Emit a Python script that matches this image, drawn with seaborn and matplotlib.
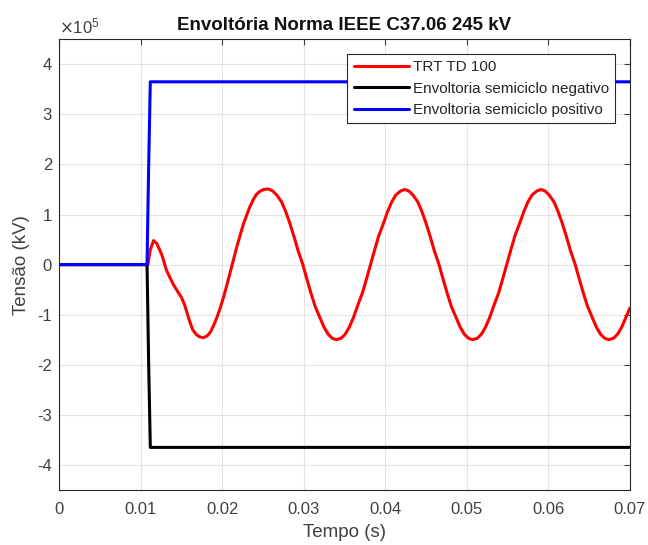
import numpy as np
import pandas as pd
import matplotlib
matplotlib.use('Agg')
import matplotlib.pyplot as plt
import seaborn as sns

# values (tension in units of 1e5 V)
scale = 1e5

t_trt = [0, 0.0109, 0.0112, 0.0116, 0.0120, 0.0126, 0.0132, 0.0140, 0.0146, 0.0150,
         0.0154, 0.0160, 0.0164, 0.0168, 0.0172, 0.0177, 0.0182, 0.0186, 0.0190, 0.0194,
         0.0198, 0.0202, 0.0206, 0.0210, 0.0214, 0.0218, 0.0222, 0.0226, 0.0230, 0.0234,
         0.0238, 0.0242, 0.0246, 0.0251,
         0.0257, 0.0262, 0.0267, 0.0273, 0.0278, 0.0283, 0.0288, 0.0293,
         0.0299, 0.0304, 0.0309, 0.0314, 0.0320, 0.0325, 0.0330, 0.0335,
         0.0340, 0.0346, 0.0351, 0.0356, 0.0361, 0.0366, 0.0372, 0.0377,
         0.0382, 0.0387, 0.0392, 0.0398, 0.0403, 0.0408, 0.0413, 0.0419,
         0.0424, 0.0429, 0.0434, 0.0440, 0.0445, 0.0450, 0.0455, 0.0460,
         0.0466, 0.0471, 0.0476, 0.0481, 0.0487, 0.0492, 0.0497, 0.0502,
         0.0507, 0.0513, 0.0518, 0.0523, 0.0528, 0.0533, 0.0539, 0.0544,
         0.0549, 0.0554, 0.0559, 0.0565, 0.0570, 0.0575, 0.0580, 0.0586,
         0.0591, 0.0596, 0.0601, 0.0607, 0.0612, 0.0617, 0.0622, 0.0627,
         0.0633, 0.0638, 0.0643, 0.0648, 0.0654, 0.0659, 0.0664, 0.0669,
         0.0674, 0.0680, 0.0685, 0.0690, 0.0695, 0.0700]
v_trt = [0, 0, 0.30, 0.48, 0.42, 0.20, -0.12, -0.39, -0.55, -0.65,
         -0.80, -1.12, -1.30, -1.39, -1.44, -1.46, -1.42, -1.34, -1.20, -1.04,
         -0.85, -0.64, -0.40, -0.15, 0.10, 0.35, 0.58, 0.80, 0.98, 1.15,
         1.29, 1.40, 1.46, 1.50,
         1.51, 1.47, 1.39, 1.25, 1.06, 0.83, 0.57, 0.29,
         0.00, -0.29, -0.57, -0.83, -1.06, -1.25, -1.39, -1.47,
         -1.50, -1.47, -1.39, -1.25, -1.06, -0.83, -0.57, -0.29,
         0.00, 0.29, 0.57, 0.83, 1.06, 1.25, 1.39, 1.47,
         1.50, 1.47, 1.39, 1.25, 1.06, 0.83, 0.57, 0.29,
         0.00, -0.29, -0.57, -0.83, -1.06, -1.25, -1.39, -1.47,
         -1.50, -1.47, -1.39, -1.25, -1.06, -0.83, -0.57, -0.29,
         0.00, 0.29, 0.57, 0.83, 1.06, 1.25, 1.39, 1.47,
         1.50, 1.47, 1.39, 1.25, 1.06, 0.83, 0.57, 0.29,
         0.00, -0.29, -0.57, -0.83, -1.06, -1.25, -1.39, -1.47,
         -1.50, -1.47, -1.39, -1.25, -1.06, -0.87]

t_neg = [0, 0.0108, 0.0110, 0.0112, 0.0700]
v_neg = [0, 0, -2.0, -3.65, -3.65]

t_pos = [0, 0.0108, 0.0110, 0.0112, 0.0700]
v_pos = [0, 0, 2.0, 3.65, 3.65]

labels = ['TRT TD 100', 'Envoltoria semiciclo negativo', 'Envoltoria semiciclo positivo']
colors = ['#ff0000', '#000000', '#0000ff']

x_ticks = [0, 0.01, 0.02, 0.03, 0.04, 0.05, 0.06, 0.07]
x_ticklabels = ['0', '0.01', '0.02', '0.03', '0.04', '0.05', '0.06', '0.07']
y_ticks = [-4, -3, -2, -1, 0, 1, 2, 3, 4]
y_ticklabels = ['-4', '-3', '-2', '-1', '0', '1', '2', '3', '4']

sns.set_style('white')
plt.rcParams['font.family'] = ['Liberation Sans', 'DejaVu Sans']

fig = plt.figure(figsize=(6.48, 5.45), dpi=100)
ax = fig.add_axes([0.091, 0.101, 0.881, 0.827])

series = [(t_trt, v_trt), (t_neg, v_neg), (t_pos, v_pos)]
for (t, v), lab, col in zip(series, labels, colors):
    df = pd.DataFrame({'t': t, 'v': np.array(v) * scale})
    sns.lineplot(data=df, x='t', y='v', color=col, linewidth=2.2, label=lab,
                 estimator=None, sort=False, ax=ax)

ax.set_xlim(0, 0.07)
ax.set_ylim(-4.5e5, 4.5e5)
ax.set_xticks(x_ticks)
ax.set_xticklabels(x_ticklabels)
ax.set_yticks(np.array(y_ticks) * scale)
ax.set_yticklabels(y_ticklabels)
ax.text(0.0, 1.006, r'$\times\mathdefault{10^{5}}$', transform=ax.transAxes,
        ha='left', va='bottom', fontsize=12, color='#404040')

ax.grid(True, color='#e3e3e3', linewidth=0.8)
ax.tick_params(direction='in', top=True, right=True, length=4, labelsize=12,
               colors='#404040', width=0.8)
ax.tick_params(axis='x', pad=9)
ax.tick_params(axis='y', pad=5)
for s in ax.spines.values():
    s.set_color('#262626')
    s.set_linewidth(0.8)

ax.set_title('Envoltória Norma IEEE C37.06 245 kV', fontsize=13.5, fontweight='bold',
             pad=7, color='#111111')
ax.set_xlabel('Tempo (s)', fontsize=13.5, color='#404040', labelpad=5)
ax.set_ylabel('Tensão (kV)', fontsize=13.5, color='#404040', labelpad=5)

leg = ax.legend(loc='upper right', fontsize=11, frameon=True, fancybox=False,
                framealpha=1, edgecolor='#262626', borderaxespad=0.95,
                handlelength=3.6, handletextpad=0.3, labelspacing=0.5,
                borderpad=0.4)
leg.get_frame().set_linewidth(0.8)
for txt in leg.get_texts():
    txt.set_color('#262626')

fig.savefig('out.png', dpi=100)
